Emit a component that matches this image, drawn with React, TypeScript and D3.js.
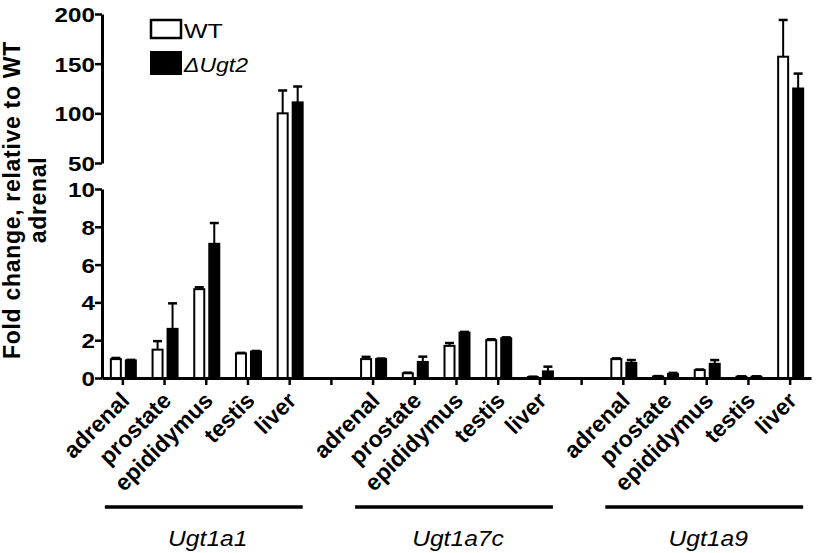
import { useEffect, useRef } from "react";
import * as d3 from "d3";

// Categories
const tissues = ["adrenal", "prostate", "epididymus", "testis", "liver"];
const genes = ["Ugt1a1", "Ugt1a7c", "Ugt1a9"];
const seriesLabels = ["WT", "ΔUgt2"];

// WT mean / SEM (order = tissues)
const wtUgt1a1 = [1.0, 1.5, 4.7, 1.3, 100];
const wtErrUgt1a1 = [0.06, 0.45, 0.1, 0.03, 23];
const wtUgt1a7c = [1.0, 0.25, 1.7, 2.0, 0.05];
const wtErrUgt1a7c = [0.12, 0.03, 0.15, 0.05, 0.02];
const wtUgt1a9 = [1.0, 0.08, 0.42, 0.07, 157];
const wtErrUgt1a9 = [0.04, 0.02, 0.03, 0.02, 37];

// ΔUgt2 mean / SEM
const koUgt1a1 = [0.93, 2.6, 7.1, 1.4, 111];
const koErrUgt1a1 = [0.03, 1.35, 1.1, 0.03, 16];
const koUgt1a7c = [1.0, 0.85, 2.4, 2.1, 0.35];
const koErrUgt1a7c = [0.03, 0.28, 0.04, 0.05, 0.25];
const koUgt1a9 = [0.8, 0.22, 0.75, 0.07, 125];
const koErrUgt1a9 = [0.15, 0.05, 0.2, 0.02, 15];

// Broken y axis ticks
const yTicksLow = [0, 2, 4, 6, 8, 10];
const yTicksHigh = [50, 100, 150, 200];

const wtMeans = [wtUgt1a1, wtUgt1a7c, wtUgt1a9];
const wtErrs = [wtErrUgt1a1, wtErrUgt1a7c, wtErrUgt1a9];
const koMeans = [koUgt1a1, koUgt1a7c, koUgt1a9];
const koErrs = [koErrUgt1a1, koErrUgt1a7c, koErrUgt1a9];

const FONT = "'Liberation Sans', Arial, Helvetica, sans-serif";

type Row = { slot: string; gene: string; tissue: string; wt: number; wtErr: number; ko: number; koErr: number };

export default function App() {
  const svgRef = useRef<SVGSVGElement | null>(null);

  useEffect(() => {
    const svgEl = svgRef.current;
    if (!svgEl) return;
    const svg = d3.select(svgEl);
    svg.selectAll("*").remove();

    const rows: Row[] = genes.flatMap((gene, gi) =>
      tissues.map((tissue, ti) => ({
        slot: `${gene}|${tissue}`,
        gene,
        tissue,
        wt: wtMeans[gi][ti],
        wtErr: wtErrs[gi][ti],
        ko: koMeans[gi][ti],
        koErr: koErrs[gi][ti],
      }))
    );

    // slots incl. empty gaps between genes
    const slots = genes.flatMap((gene, gi) => [
      ...tissues.map((t) => `${gene}|${t}`),
      ...(gi < genes.length - 1 ? [`gap${gi}`] : []),
    ]);

    const x = d3.scaleBand<string>().domain(slots).range([102, 811]).padding(0);
    const cx = (s: string) => (x(s) ?? 0) + x.bandwidth() / 2;
    const sub = d3.scaleBand<string>().domain(["WT", "KO"]).range([-13, 14]).paddingInner(0.2);

    // piecewise scale for the broken axis
    const y = d3.scaleLinear().domain([0, 10, 50, 200]).range([378, 189, 163, 14]);
    const yLow = d3.scaleLinear().domain([0, 10]).range([y(0), y(10)]);
    const yHigh = d3.scaleLinear().domain([50, 200]).range([y(50), y(200)]);

    const g = svg.append("g");

    // bars
    const bw = sub.bandwidth();
    g.selectAll("rect.wt")
      .data(rows)
      .join("rect")
      .attr("class", "wt")
      .attr("x", (d) => cx(d.slot) + (sub("WT") ?? 0) + 1)
      .attr("width", bw - 2)
      .attr("y", (d) => y(d.wt))
      .attr("height", (d) => y(0) - y(d.wt))
      .attr("fill", "#fff")
      .attr("stroke", "#000")
      .attr("stroke-width", 2);

    g.selectAll("rect.ko")
      .data(rows)
      .join("rect")
      .attr("class", "ko")
      .attr("x", (d) => cx(d.slot) + (sub("KO") ?? 0))
      .attr("width", bw)
      .attr("y", (d) => y(d.ko) - 1)
      .attr("height", (d) => y(0) - y(d.ko) + 1)
      .attr("fill", "#000");

    // error bars (upper only)
    const errs = rows.flatMap((d) => [
      { xc: cx(d.slot) + (sub("WT") ?? 0) + bw / 2, v: d.wt, e: d.wtErr },
      { xc: cx(d.slot) + (sub("KO") ?? 0) + bw / 2, v: d.ko, e: d.koErr },
    ]);
    const eg = g.append("g").attr("stroke", "#000").attr("stroke-width", 2);
    errs.forEach((d) => {
      eg.append("line").attr("x1", d.xc).attr("x2", d.xc).attr("y1", y(d.v)).attr("y2", y(d.v + d.e));
      eg.append("line")
        .attr("x1", d.xc - 4.5)
        .attr("x2", d.xc + 4.5)
        .attr("y1", y(d.v + d.e))
        .attr("y2", y(d.v + d.e))
        .attr("stroke-width", 2.5);
    });

    // x axis
    const xAxis = g
      .append("g")
      .attr("transform", `translate(0,${y(0)})`)
      .call(
        d3
          .axisBottom(x)
          .tickSizeInner(7)
          .tickSizeOuter(0)
          .tickFormat((s: string) => (s.startsWith("gap") ? "" : s.split("|")[1]))
      );
    xAxis.select(".domain").attr("stroke-width", 3);
    xAxis.selectAll(".tick line").attr("stroke-width", 2.5);
    xAxis
      .selectAll(".tick text")
      .attr("x", 0)
      .attr("y", 0)
      .attr("dy", 0)
      .attr("transform", "translate(8,24) rotate(-45)")
      .attr("text-anchor", "end")
      .attr("font-family", FONT)
      .attr("font-weight", "bold")
      .attr("font-size", 23)
      .attr("fill", "#000");

    // y axes (two segments)
    const styleY = (sel: d3.Selection<SVGGElement, unknown, null, undefined>) => {
      sel.select(".domain").attr("stroke-width", 3);
      sel.selectAll(".tick line").attr("stroke-width", 2.5);
      sel
        .selectAll(".tick text")
        .attr("x", -6.2)
        .attr("dy", "0.36em")
        .attr("transform", "scale(1.15,1)")
        .attr("font-family", FONT)
        .attr("font-weight", "bold")
        .attr("font-size", 21)
        .attr("fill", "#000");
    };
    const yLowG = g
      .append("g")
      .attr("transform", "translate(102,0)")
      .call(d3.axisLeft(yLow).tickValues(yTicksLow).tickSizeInner(7).tickSizeOuter(0).tickPadding(0));
    styleY(yLowG);
    const yHighG = g
      .append("g")
      .attr("transform", "translate(102,0)")
      .call(d3.axisLeft(yHigh).tickValues(yTicksHigh).tickSizeInner(7).tickSizeOuter(0).tickPadding(0));
    styleY(yHighG);

    // y title
    const yt = g
      .append("g")
      .attr("transform", `translate(20,${(y(0) + y(200)) / 2 + 4}) rotate(-90)`)
      .attr("font-family", FONT)
      .attr("font-weight", "bold")
      .attr("font-size", 23)
      .attr("letter-spacing", 0.7)
      .attr("text-anchor", "middle");
    yt.append("text").text("Fold change, relative to WT");
    yt.append("text").attr("y", 26).text("adrenal");

    // gene group lines and labels
    genes.forEach((gene) => {
      const x0 = cx(`${gene}|${tissues[0]}`) - 18;
      const x1 = cx(`${gene}|${tissues[tissues.length - 1]}`) + 13;
      g.append("line")
        .attr("x1", x0)
        .attr("x2", x1)
        .attr("y1", 507)
        .attr("y2", 507)
        .attr("stroke", "#000")
        .attr("stroke-width", 3.5);
      g.append("text")
        .attr("transform", `translate(${(x0 + x1) / 2 + 4},546) scale(1.12,1)`)
        .attr("text-anchor", "middle")
        .attr("font-family", FONT)
        .attr("font-style", "italic")
        .attr("font-size", 22)
        .text(gene);
    });

    // legend
    const lg = g.append("g").attr("font-family", FONT).attr("font-size", 20);
    lg.append("rect")
      .attr("x", 151)
      .attr("y", 20)
      .attr("width", 30)
      .attr("height", 18)
      .attr("fill", "#fff")
      .attr("stroke", "#000")
      .attr("stroke-width", 2.5);
    lg.append("rect").attr("x", 150).attr("y", 51).attr("width", 32).attr("height", 24).attr("fill", "#000");
    lg.append("text").attr("transform", "translate(184,38) scale(1.25,1)").text(seriesLabels[0]);
    lg.append("text")
      .attr("transform", "translate(184,72) scale(1.15,1)")
      .attr("font-style", "italic")
      .text(seriesLabels[1]);
  }, []);

  return (
    <svg
      ref={svgRef}
      width={819}
      height={553}
      style={{ position: "absolute", left: 0, top: 0, background: "#fff" }}
    />
  );
}
